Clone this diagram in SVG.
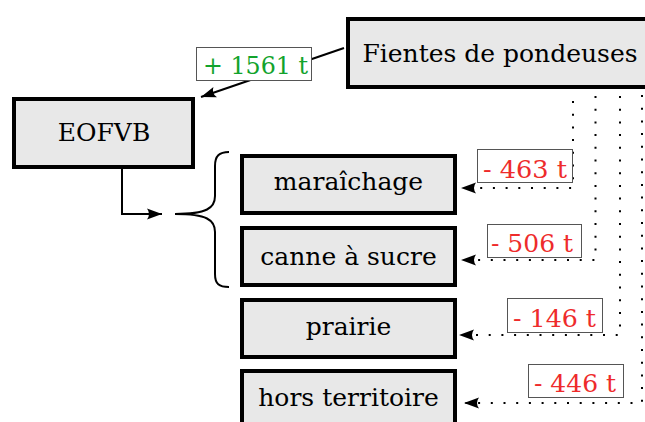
<svg xmlns="http://www.w3.org/2000/svg" width="645" height="422" viewBox="0 0 645 422">
<style>
.node rect{fill:#e8e8e8;stroke:#000;stroke-width:4}
.node text{font-family:"DejaVu Serif",serif;font-size:25px;fill:#000;text-anchor:middle}
.lbl rect{fill:#fff;stroke:#555;stroke-width:1}
.lbl text{font-family:"DejaVu Serif",serif;font-size:25px;text-anchor:middle}
.red text{fill:#ee2b2b}
.green text{fill:#12a32c}
.solid{fill:none;stroke:#000;stroke-width:2}
.dot{fill:none;stroke:#000;stroke-width:2;stroke-dasharray:2 10.7}
</style>
<defs>
<marker id="arr" markerUnits="userSpaceOnUse" markerWidth="16" markerHeight="11" refX="15" refY="5.5" orient="auto" overflow="visible">
<path d="M15,5.5 L0,0 Q4,5.5 0,11 Z" fill="#000"/>
</marker>
</defs>
<g id="connectors">
<path class="solid" d="M344,48 L201,97" marker-end="url(#arr)"/>
<path class="solid" d="M122,169 V214 H162" marker-end="url(#arr)"/>
<path class="solid" d="M229,152 C219,152 215,156 215,166 L215,196 C215,208 207,214 175,214 C207,214 215,220 215,232 L215,274 C215,284 219,287 229,287"/>
<path class="dot" d="M573,101 V188 H461" marker-end="url(#arr)"/>
<path class="dot" d="M595.5,96 V260 H461" marker-end="url(#arr)"/>
<path class="dot" d="M620,96 V335 H459" marker-end="url(#arr)"/>
<path class="dot" d="M642,95 V403 H464" marker-end="url(#arr)"/>
</g>
<g id="fientes" class="node">
<rect x="348" y="19" width="320" height="68"/>
<text x="500" y="62">Fientes de pondeuses</text>
</g>
<g id="eofvb" class="node">
<rect x="14" y="99" width="179" height="68"/>
<text x="104" y="141">EOFVB</text>
</g>
<g id="maraichage" class="node">
<rect x="242" y="156" width="213" height="57"/>
<text x="348.5" y="190">maraîchage</text>
</g>
<g id="canne" class="node">
<rect x="242" y="228" width="213" height="57"/>
<text x="348.5" y="265">canne à sucre</text>
</g>
<g id="prairie" class="node">
<rect x="242" y="300" width="213" height="57"/>
<text x="348.5" y="335">prairie</text>
</g>
<g id="hors" class="node">
<rect x="242" y="371" width="213" height="57"/>
<text x="348.5" y="406">hors territoire</text>
</g>
<g id="lbl-1561" class="lbl green">
<rect x="196.5" y="47.5" width="115" height="33"/>
<text x="255.5" y="74" textLength="105" lengthAdjust="spacingAndGlyphs">+ 1561 t</text>
</g>
<g id="lbl-463" class="lbl red">
<rect x="477.5" y="149.5" width="95" height="33"/>
<text x="525" y="178" textLength="84" lengthAdjust="spacingAndGlyphs">- 463 t</text>
</g>
<g id="lbl-506" class="lbl red">
<rect x="487.5" y="224.5" width="94" height="33"/>
<text x="532" y="252" textLength="82" lengthAdjust="spacingAndGlyphs">- 506 t</text>
</g>
<g id="lbl-146" class="lbl red">
<rect x="507.5" y="298.5" width="95" height="34"/>
<text x="554.5" y="327" textLength="83" lengthAdjust="spacingAndGlyphs">- 146 t</text>
</g>
<g id="lbl-446" class="lbl red">
<rect x="528.5" y="364.5" width="95" height="33"/>
<text x="575" y="392" textLength="82" lengthAdjust="spacingAndGlyphs">- 446 t</text>
</g>
</svg>
